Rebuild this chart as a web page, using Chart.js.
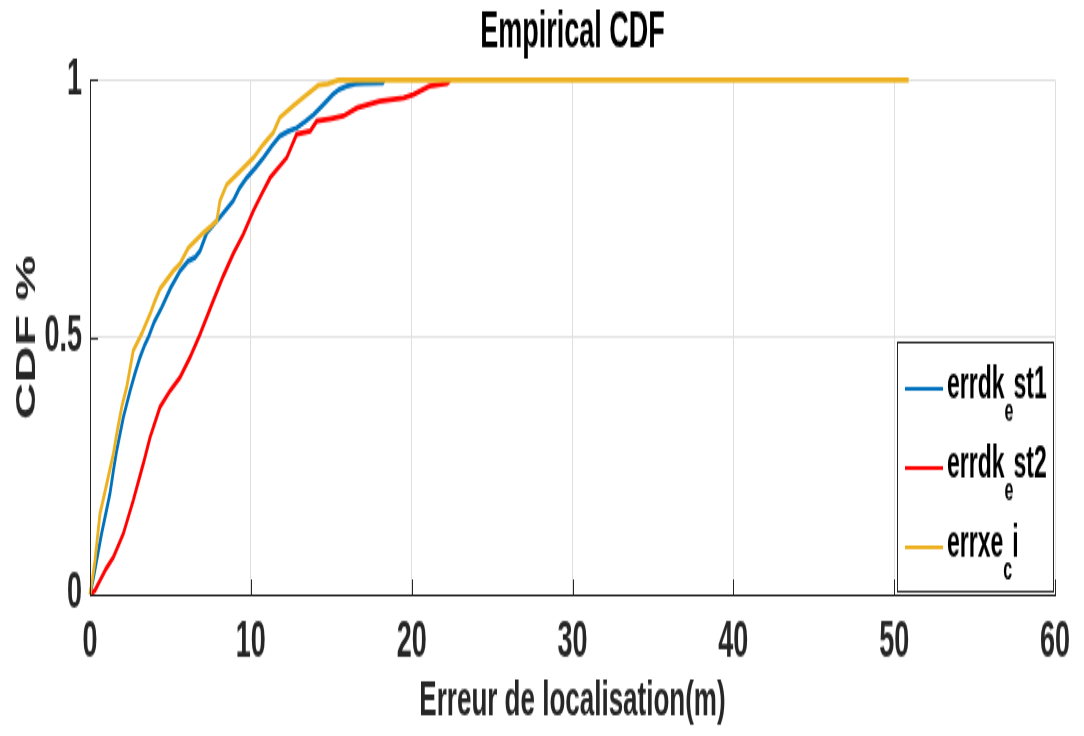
<!DOCTYPE html>
<html>
<head>
<meta charset="utf-8">
<title>Empirical CDF</title>
<script src="https://cdn.jsdelivr.net/npm/chart.js@4/dist/chart.umd.min.js"></script>
<style>
    html, body { margin: 0; padding: 0; background: #fff; overflow: hidden; }
</style>
</head>
<body>
<!-- the reference figure is stretched vertically, so the canvas is drawn short and scaled up -->
<canvas id="chartCanvas" width="1084" height="390" style="display:block;width:1084px;height:736px"></canvas>
<script>
const FONT = "'Liberation Sans', Arial, Helvetica, sans-serif";
const INK = '#262626';
const GRID = '#dfdfdf';

// errdk_est1
const est1X = [0, 0.2, 0.41, 0.72, 1.0, 1.24, 1.45, 1.66, 2.07, 2.49, 2.8, 3.11, 3.4, 3.63, 4.0, 4.46,
    5.0, 5.6, 6.1, 6.53, 6.84, 7.26, 7.7, 8.08, 8.9, 9.3, 9.74, 10.3, 10.78, 11.3, 11.8, 12.3,
    12.85, 13.4, 13.9, 14.5, 15.1, 15.5, 15.96, 16.5, 17.0, 18.2, 18.3];
const est1Y = [0, 0.03, 0.066, 0.118, 0.16, 0.196, 0.24, 0.28, 0.344, 0.396, 0.43, 0.461, 0.485, 0.5, 0.53, 0.558,
    0.595, 0.629, 0.648, 0.655, 0.668, 0.703, 0.72, 0.733, 0.765, 0.79, 0.81, 0.83, 0.849, 0.872, 0.891, 0.9,
    0.907, 0.92, 0.933, 0.952, 0.972, 0.982, 0.988, 0.993, 0.994, 0.995, 1.0];

// errdk_est2
const est2X = [0, 0.31, 0.62, 1.0, 1.45, 2.07, 2.69, 3.31, 3.73, 4.35, 4.98, 5.6, 6.22, 6.84, 7.66, 8.3,
    8.9, 9.53, 10.16, 10.7, 11.2, 12.23, 12.85, 13.7, 14.1, 15.0, 15.75, 16.6, 18.0, 19.5, 20.1,
    21.1, 22.2, 22.4];
const est2Y = [0, 0.008, 0.027, 0.05, 0.072, 0.118, 0.183, 0.254, 0.305, 0.364, 0.396, 0.422, 0.461, 0.506, 0.571, 0.62,
    0.662, 0.7, 0.746, 0.78, 0.81, 0.849, 0.895, 0.901, 0.92, 0.925, 0.93, 0.946, 0.959, 0.965, 0.972,
    0.988, 0.994, 1.0];

// errxe_ci
const ciX = [0, 0.15, 0.31, 0.62, 1.04, 1.45, 1.66, 1.97, 2.28, 2.69, 3.2, 3.73, 4.04, 4.35, 5.18, 5.6,
    6.11, 7.05, 7.5, 7.88, 8.08, 8.5, 9.33, 10.16, 10.78, 11.4, 11.8, 12.64, 13.5, 14.2, 14.8,
    15.44, 50.9];
const ciY = [0, 0.03, 0.066, 0.157, 0.215, 0.273, 0.312, 0.364, 0.403, 0.474, 0.506, 0.545, 0.571, 0.594, 0.629, 0.643,
    0.674, 0.703, 0.715, 0.726, 0.765, 0.797, 0.823, 0.849, 0.875, 0.898, 0.927, 0.95, 0.972, 0.99, 0.993,
    1.0, 1.0];

const seriesNames = ['errdk_est1', 'errdk_est2', 'errxe_ci'];
const seriesColors = ['#0072bd', '#ff0000', '#edb120'];
const xTicks = [0, 10, 20, 30, 40, 50, 60];
const yTicks = [0, 0.5, 1];

function toPoints(xs, ys) {
    return xs.map((x, i) => ({x: x, y: ys[i]}));
}

// MATLAB style ticks pointing into the plot
const inwardTicks = {
    id: 'inwardTicks',
    afterDatasetsDraw(chart) {
        const {ctx, chartArea: a, scales: {x, y}} = chart;
        ctx.save();
        ctx.strokeStyle = INK;
        ctx.lineWidth = 1;
        ctx.beginPath();
        x.ticks.forEach(t => {
            const px = Math.round(x.getPixelForValue(t.value)) + 0.5;
            ctx.moveTo(px, a.bottom);
            ctx.lineTo(px, a.bottom - 8);
        });
        y.ticks.forEach(t => {
            const py = Math.round(y.getPixelForValue(t.value)) + 0.5;
            ctx.moveTo(a.left, py);
            ctx.lineTo(a.left + 8, py);
        });
        ctx.stroke();
        ctx.restore();
    }
};

// legend box in the lower right, labels use TeX subscripts like MATLAB
const texLegend = {
    id: 'texLegend',
    afterDraw(chart) {
        const {ctx, chartArea: a} = chart;
        const w = 156, h = 132;
        const left = a.right - w - 2;
        const top = a.bottom - h - 2;
        ctx.save();
        ctx.fillStyle = '#fff';
        ctx.fillRect(left, top, w, h);
        ctx.strokeStyle = INK;
        ctx.lineWidth = 1;
        ctx.strokeRect(left + 0.5, top + 0.5, w, h);

        chart.data.datasets.forEach((ds, i) => {
            const rowY = top + 25 + i * 42;
            ctx.strokeStyle = ds.borderColor;
            ctx.lineWidth = 2;
            ctx.beginPath();
            ctx.moveTo(left + 8, rowY);
            ctx.lineTo(left + 46, rowY);
            ctx.stroke();

            // the character after '_' is a subscript
            const parts = ds.label.split('_');
            const head = parts[0], sub = parts[1][0], rest = parts[1].slice(1);
            let tx = left + 50;
            ctx.fillStyle = '#000';
            ctx.textAlign = 'left';
            ctx.textBaseline = 'alphabetic';
            ctx.font = `bold 23px ${FONT}`;
            ctx.fillText(head, tx, rowY + 5);
            tx += ctx.measureText(head).width;
            ctx.font = `bold 16px ${FONT}`;
            ctx.fillText(sub, tx, rowY + 17);
            tx += ctx.measureText(sub).width;
            ctx.font = `bold 23px ${FONT}`;
            ctx.fillText(rest, tx, rowY + 5);
        });
        ctx.restore();
    }
};

const ctx = document.getElementById('chartCanvas').getContext('2d');

new Chart(ctx, {
    type: 'line',
    data: {
        datasets: [
            {label: seriesNames[0], data: toPoints(est1X, est1Y), borderColor: seriesColors[0], order: 3, clip: 5},
            {label: seriesNames[1], data: toPoints(est2X, est2Y), borderColor: seriesColors[1], order: 2, clip: 5},
            {label: seriesNames[2], data: toPoints(ciX, ciY), borderColor: seriesColors[2], order: 1, clip: 5}
        ]
    },
    options: {
        responsive: false,
        animation: false,
        layout: {padding: {left: 0, right: 29, top: 0, bottom: 0}},
        elements: {
            point: {radius: 0},
            line: {tension: 0, borderWidth: 2.8, fill: false}
        },
        plugins: {
            legend: {display: false},
            tooltip: {enabled: false},
            title: {
                display: true,
                fullSize: false,
                text: 'Empirical CDF',
                color: '#000',
                font: {family: FONT, size: 27, weight: 'bold'},
                padding: {top: 1, bottom: 9}
            }
        },
        scales: {
            x: {
                type: 'linear',
                min: 0,
                max: 60,
                afterFit: s => { s.height = 75; },
                afterBuildTicks: s => { s.ticks = xTicks.map(v => ({value: v})); },
                grid: {color: GRID, drawTicks: false},
                border: {color: INK, width: 1},
                ticks: {
                    padding: 9,
                    color: INK,
                    maxRotation: 0,
                    font: {family: FONT, size: 27, weight: 'bold'}
                },
                title: {
                    display: true,
                    text: 'Erreur de localisation(m)',
                    color: INK,
                    font: {family: FONT, size: 26, weight: 'bold'},
                    padding: {top: 0, bottom: 3}
                }
            },
            y: {
                type: 'linear',
                min: 0,
                max: 1,
                afterFit: s => { s.width = 90; },
                afterBuildTicks: s => { s.ticks = yTicks.map(v => ({value: v})); },
                grid: {color: GRID, drawTicks: false},
                border: {color: INK, width: 1},
                ticks: {
                    padding: 8,
                    color: INK,
                    font: {family: FONT, size: 27, weight: 'bold'},
                    callback: v => String(v)
                },
                title: {
                    display: true,
                    text: 'CDF %',
                    color: INK,
                    font: {family: FONT, size: 27, weight: 'bold'},
                    padding: {top: 11, bottom: 0}
                }
            }
        }
    },
    plugins: [inwardTicks, texLegend]
});
</script>
</body>
</html>
